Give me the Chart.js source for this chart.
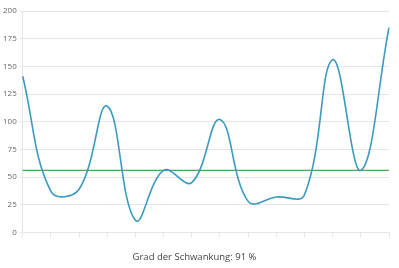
<!DOCTYPE html>
<html>
<head>
<meta charset="utf-8">
<script src="https://cdn.jsdelivr.net/npm/chart.js@4/dist/chart.umd.min.js"></script>
<style>
  html, body { margin: 0; padding: 0; background: #fff; }
  #wrap { width: 399px; height: 268px; }
</style>
</head>
<body>
<div id="wrap"><canvas id="chart"></canvas></div>
<script>
const categories = ["", "", "", "", "", "", "", "", "", "", "", "", "", ""];
const werte = [141, 37, 39, 114, 11, 56, 45, 102, 28, 32, 34, 156, 56, 185];
const mittelwert = 56;
const yTicks = [0, 25, 50, 75, 100, 125, 150, 175, 200];
const titel = "Grad der Schwankung: 91 %";

const ctx = document.getElementById("chart").getContext("2d");
new Chart(ctx, {
  type: "line",
  data: {
    labels: categories,
    datasets: [
      {
        data: werte,
        borderColor: "#3b9bbf",
        borderWidth: 1.6,
        pointRadius: 0,
        fill: false,
        tension: 0.4
      },
      {
        data: categories.map(() => mittelwert),
        borderColor: "#52a552",
        borderWidth: 1.4,
        pointRadius: 0,
        fill: false,
        tension: 0
      }
    ]
  },
  options: {
    responsive: true,
    maintainAspectRatio: false,
    animation: false,
    layout: { padding: { top: 11, right: 10, left: 0, bottom: 5 } },
    plugins: {
      legend: { display: false },
      tooltip: { enabled: false },
      title: {
        display: true,
        text: titel,
        position: "bottom",
        color: "#444",
        font: { family: "Open Sans", size: 9.5, weight: "normal" },
        padding: { top: 13, bottom: 0 }
      }
    },
    scales: {
      x: {
        grid: { drawOnChartArea: false, tickLength: 5, color: "#e6e6e6" },
        border: { color: "#e6e6e6" },
        ticks: { font: { size: 1 }, padding: 0 }
      },
      y: {
        min: 0,
        max: 200,
        afterBuildTicks: axis => { axis.ticks = yTicks.map(v => ({ value: v })); },
        grid: { color: "#e6e6e6", tickLength: 3 },
        border: { display: true, color: "#e6e6e6" },
        ticks: {
          color: "#666",
          font: { family: "Open Sans", size: 8 },
          padding: 3
        }
      }
    }
  }
});
</script>
</body>
</html>
